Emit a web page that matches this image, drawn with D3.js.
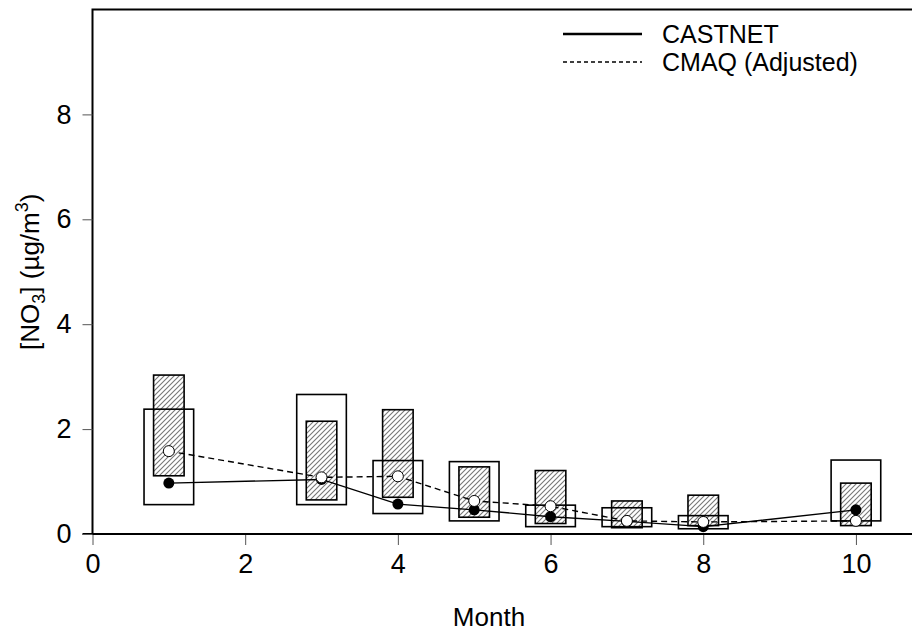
<!DOCTYPE html>
<html>
<head>
<meta charset="utf-8">
<script src="https://cdn.jsdelivr.net/npm/d3@7"></script>
<style>
  body { margin: 0; background: #fff; }
  svg { display: block; font-family: Arial, "Liberation Sans", sans-serif; }
</style>
</head>
<body>
<script>
// Monthly NO3 concentrations (ug/m3): CASTNET observations vs adjusted CMAQ
const months = [1, 3, 4, 5, 6, 7, 8, 10];
const castnetMean = [0.97, 1.04, 0.57, 0.46, 0.33, 0.24, 0.14, 0.46];
const castnetLow = [0.56, 0.56, 0.39, 0.25, 0.14, 0.14, 0.10, 0.25];
const castnetHigh = [2.38, 2.66, 1.40, 1.38, 0.55, 0.50, 0.35, 1.41];
const cmaqMean = [1.58, 1.08, 1.10, 0.63, 0.53, 0.25, 0.23, 0.25];
const cmaqLow = [1.11, 0.65, 0.70, 0.32, 0.20, 0.12, 0.16, 0.16];
const cmaqHigh = [3.03, 2.15, 2.37, 1.28, 1.21, 0.63, 0.74, 0.97];

const xTicks = [0, 2, 4, 6, 8, 10];
const yTicks = [0, 2, 4, 6, 8];
const seriesNames = ['CASTNET', 'CMAQ (Adjusted)'];

const width = 912, height = 634;
const margin = { top: 9.5, right: -5, bottom: 100, left: 92.5 };

const svg = d3.select('body').append('svg')
  .attr('width', width)
  .attr('height', height);

const defs = svg.append('defs');
const pat = defs.append('pattern')
  .attr('id', 'hatch')
  .attr('patternUnits', 'userSpaceOnUse')
  .attr('width', 5)
  .attr('height', 5);
pat.append('rect').attr('width', 5).attr('height', 5).attr('fill', '#fff');
pat.append('path')
  .attr('d', 'M-1,1 l2,-2 M0,5 l5,-5 M4,6 l2,-2')
  .attr('stroke', '#777')
  .attr('stroke-width', 1.1);

const x = d3.scaleLinear()
  .domain([0, 10.8])
  .range([margin.left, width - margin.right]);

const y = d3.scaleLinear()
  .domain([0, 10])
  .range([height - margin.bottom, margin.top]);

const rows = months.map((m, i) => ({
  month: m,
  obs: castnetMean[i], obsLo: castnetLow[i], obsHi: castnetHigh[i],
  mod: cmaqMean[i], modLo: cmaqLow[i], modHi: cmaqHigh[i]
}));

// box half-widths in month units
const openHalf = 0.325;
const hatchHalf = 0.2;

// frame: left and top lines
svg.append('path')
  .attr('d', `M${x(0)},${y(0)} V${y(10)} H${width + 5}`)
  .attr('fill', 'none')
  .attr('stroke', '#000')
  .attr('stroke-width', 2);

// hatched boxes (CMAQ range)
svg.append('g').selectAll('rect')
  .data(rows)
  .enter().append('rect')
  .attr('x', d => x(d.month - hatchHalf))
  .attr('width', d => x(d.month + hatchHalf) - x(d.month - hatchHalf))
  .attr('y', d => y(d.modHi))
  .attr('height', d => y(d.modLo) - y(d.modHi))
  .attr('fill', 'url(#hatch)')
  .attr('stroke', '#000')
  .attr('stroke-width', 1.6);

// open boxes (CASTNET range)
svg.append('g').selectAll('rect')
  .data(rows)
  .enter().append('rect')
  .attr('x', d => x(d.month - openHalf))
  .attr('width', d => x(d.month + openHalf) - x(d.month - openHalf))
  .attr('y', d => y(d.obsHi))
  .attr('height', d => y(d.obsLo) - y(d.obsHi))
  .attr('fill', 'none')
  .attr('stroke', '#000')
  .attr('stroke-width', 1.6);

// mean lines
const obsLine = d3.line().x(d => x(d.month)).y(d => y(d.obs));
const modLine = d3.line().x(d => x(d.month)).y(d => y(d.mod));

svg.append('path')
  .datum(rows)
  .attr('d', modLine)
  .attr('fill', 'none')
  .attr('stroke', '#000')
  .attr('stroke-width', 1.4)
  .attr('stroke-dasharray', '6,4');

svg.append('path')
  .datum(rows)
  .attr('d', obsLine)
  .attr('fill', 'none')
  .attr('stroke', '#000')
  .attr('stroke-width', 1.4);

svg.append('g').selectAll('circle')
  .data(rows)
  .enter().append('circle')
  .attr('cx', d => x(d.month))
  .attr('cy', d => y(d.obs))
  .attr('r', 5.5)
  .attr('fill', '#000');

svg.append('g').selectAll('circle')
  .data(rows)
  .enter().append('circle')
  .attr('cx', d => x(d.month))
  .attr('cy', d => y(d.mod))
  .attr('r', 5.5)
  .attr('fill', '#fff')
  .attr('stroke', '#000')
  .attr('stroke-width', 1);

// axes
const xAxis = svg.append('g')
  .attr('transform', `translate(0,${y(0)})`)
  .call(d3.axisBottom(x).tickValues(xTicks).tickSize(11).tickPadding(9).tickFormat(d3.format('d')));
xAxis.select('.domain').remove();
xAxis.append('line')
  .attr('x1', x(0) - 10).attr('x2', width + 5)
  .attr('stroke', '#000').attr('stroke-width', 2);
xAxis.selectAll('.tick line').attr('stroke', '#555');
xAxis.selectAll('.tick text')
  .attr('fill', '#000')
  .style('font-size', '27px')
  .style('font-family', 'Arial, "Liberation Sans", sans-serif');

const yAxis = svg.append('g')
  .attr('transform', `translate(${x(0)},0)`)
  .call(d3.axisLeft(y).tickValues(yTicks).tickSize(10).tickPadding(11).tickFormat(d3.format('d')));
yAxis.select('.domain').remove();
yAxis.selectAll('.tick line').attr('stroke', '#555');
yAxis.selectAll('.tick text')
  .attr('fill', '#000')
  .style('font-size', '27px')
  .style('font-family', 'Arial, "Liberation Sans", sans-serif');

// axis titles
svg.append('text')
  .attr('x', 489)
  .attr('y', 626)
  .attr('text-anchor', 'middle')
  .style('font-size', '26px')
  .text('Month');

const yTitle = svg.append('text')
  .attr('transform', `translate(39,${(y(0) + y(10)) / 2}) rotate(-90)`)
  .attr('text-anchor', 'middle')
  .style('font-size', '26px');
yTitle.append('tspan').text('[NO');
yTitle.append('tspan').attr('dy', 6).style('font-size', '18px').text('3');
yTitle.append('tspan').attr('dy', -6).text('] (µg/m');
yTitle.append('tspan').attr('dy', -11).style('font-size', '18px').text('3');
yTitle.append('tspan').attr('dy', 11).text(')');

// legend
const legend = svg.append('g');
const legendRows = [
  { name: seriesNames[0], y: 34, dash: null, sw: 2.5 },
  { name: seriesNames[1], y: 62, dash: '4,3', sw: 1.3 }
];
legendRows.forEach(r => {
  legend.append('line')
    .attr('x1', 563).attr('x2', 642)
    .attr('y1', r.y).attr('y2', r.y)
    .attr('stroke', '#000')
    .attr('stroke-width', r.sw)
    .attr('stroke-dasharray', r.dash);
  legend.append('text')
    .attr('x', 662)
    .attr('y', r.y + 9)
    .style('font-size', '25px')
    .text(r.name);
});
</script>
</body>
</html>
